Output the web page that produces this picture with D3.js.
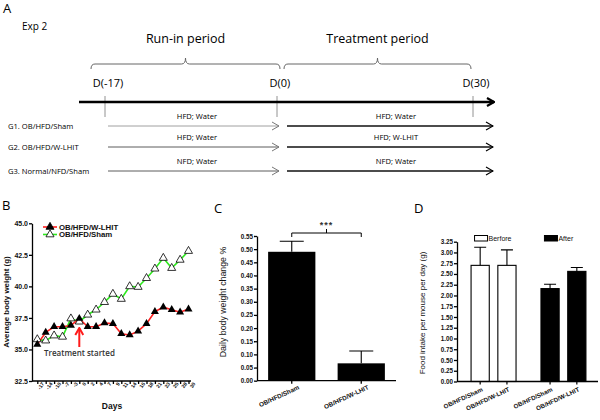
<!DOCTYPE html>
<html>
<head>
<meta charset="utf-8">
<script src="https://d3js.org/d3.v7.min.js"></script>
<style>
  body { margin: 0; background: #fff; }
  svg { display: block; }
  .cal { font-family: "Open Sans", sans-serif; fill: #000; }
  .gp { font-family: "Liberation Sans", Arial, sans-serif; font-weight: bold; fill: #111; }
  .axis path, .axis line { stroke: #000; stroke-width: 1.3; }
  .axis text { font-family: "Liberation Sans", Arial, sans-serif; font-weight: bold; fill: #111; }
</style>
</head>
<body>
<script>
// ---- panel A: study design
var milestones = [-17, 0, 30];
var periods = [["Run-in period", -17, 0], ["Treatment period", 0, 30]];
var groups = ["G1. OB/HFD/Sham", "G2. OB/HFD/W-LHIT", "G3. Normal/NFD/Sham"];
var runIn = ["HFD; Water", "HFD; Water", "NFD; Water"];
var treatment = ["HFD; Water", "HFD; W-LHIT", "NFD; Water"];

// ---- panel B: body weight
var days = ["-17","-14","-10","-7","-3","0","2","4","7","9","11","14","16","18","21","23","25","28","30"];
var wLhit = [35.4,36.35,36.8,36.8,36.9,37.45,36.8,36.8,37.1,37.05,36.25,36.15,36.45,37.05,38.0,38.35,38.15,37.95,38.2];
var sham = [35.8,35.7,36.1,36.0,37.45,37.2,37.75,38.15,38.75,39.4,39.0,40.0,39.95,40.65,41.4,42.25,41.45,42.1,42.8];
var bTicks = [32.5, 35, 37.5, 40, 42.5, 45];

// ---- panel C: daily weight change
var cGroups = ["OB/HFD/Sham", "OB/HFD/W-LHIT"];
var cMean = [0.49, 0.066];
var cErr = [0.04, 0.047];

// ---- panel D: food intake
var dPhases = ["Berfore", "After"];
var dGroups = ["OB/HFD/Sham", "OB/HFD/W-LHIT"];
var dBefore = [2.70, 2.70];
var dBeforeErr = [0.42, 0.36];
var dAfter = [2.16, 2.56];
var dAfterErr = [0.10, 0.09];

var svg = d3.select("body").append("svg").attr("width", 600).attr("height", 420);

function chevron(id, color, w) {
  svg.append("defs").append("marker")
    .attr("id", id).attr("viewBox", "0 0 10 10")
    .attr("refX", 9).attr("refY", 5)
    .attr("markerWidth", 10).attr("markerHeight", 10)
    .attr("markerUnits", "userSpaceOnUse")
    .attr("orient", "auto")
    .append("path").attr("d", "M2,1 L9,5 L2,9")
    .attr("fill", "none").attr("stroke", color).attr("stroke-width", w);
}
chevron("arrBig", "#000", 2.2);
chevron("arrGray", "#777", 1);
chevron("arrDark", "#000", 1.2);
chevron("arrRed", "#ff1a1a", 2);

// =============== A ===============
var A = svg.append("g");
var tx = d3.scaleLinear().domain(milestones).range([105, 277, 473]);
var ry = d3.scaleLinear().domain([0, 1, 2]).range([126, 147, 171]);

A.append("text").attr("class", "cal").attr("x", 3).attr("y", 13).style("font-size", "13px").text("A");
A.append("text").attr("class", "cal").attr("x", 22).attr("y", 30).style("font-size", "10px").text("Exp 2");

periods.forEach(function (p, i) {
  var x0 = tx(p[1]) + (i ? 7 : -14), x1 = tx(p[2]) - (i ? 2 : -3), xm = (x0 + x1) / 2;
  A.append("path")
    .attr("d", "M" + x0 + ",69 Q" + x0 + ",64 " + (x0 + 4) + ",64 L" + (xm - 4) + ",64 Q" + xm + ",64 " + xm + ",58 Q" + xm + ",64 " + (xm + 4) + ",64 L" + (x1 - 4) + ",64 Q" + x1 + ",64 " + x1 + ",69")
    .attr("fill", "none").attr("stroke", "#666").attr("stroke-width", 1);
  A.append("text").attr("class", "cal").attr("x", xm).attr("y", 43)
    .attr("text-anchor", "middle").style("font-size", "12.5px").text(p[0]);
});

milestones.forEach(function (m) {
  A.append("text").attr("class", "cal").attr("x", tx(m) + 3).attr("y", 87)
    .attr("text-anchor", "middle").style("font-size", "11px").text("D(" + m + ")");
  A.append("line").attr("x1", tx(m)).attr("x2", tx(m)).attr("y1", 96).attr("y2", 117)
    .attr("stroke", "#777").attr("stroke-width", 0.8);
});

A.append("line").attr("x1", 79).attr("x2", 494).attr("y1", 102).attr("y2", 102)
  .attr("stroke", "#000").attr("stroke-width", 2.6).attr("marker-end", "url(#arrBig)");

groups.forEach(function (g, i) {
  var y = ry(i);
  A.append("text").attr("class", "cal").attr("x", 8).attr("y", y + 2.5)
    .style("font-size", "7.6px").text(g);
  A.append("line").attr("x1", 108).attr("x2", 279).attr("y1", y).attr("y2", y)
    .attr("stroke", i ? "#333" : "#888").attr("stroke-width", 0.8).attr("marker-end", "url(#arrGray)");
  A.append("line").attr("x1", 287).attr("x2", 493).attr("y1", y).attr("y2", y)
    .attr("stroke", "#111").attr("stroke-width", 1.4).attr("marker-end", "url(#arrDark)");
  A.append("text").attr("class", "cal").attr("x", 197).attr("y", y - 7)
    .attr("text-anchor", "middle").style("font-size", "7.6px").text(runIn[i]);
  A.append("text").attr("class", "cal").attr("x", 396).attr("y", y - 7)
    .attr("text-anchor", "middle").style("font-size", "7.6px").text(treatment[i]);
});

// =============== B ===============
var B = svg.append("g");
B.append("text").attr("class", "cal").attr("x", 2).attr("y", 210).style("font-size", "13px").text("B");

var bx = d3.scalePoint().domain(days).range([37.3, 188.5]);
var by = d3.scaleLinear().domain([32.5, 45]).range([381, 223.3]);

B.append("g").attr("class", "axis").attr("transform", "translate(32,0)")
  .call(d3.axisLeft(by).tickValues(bTicks).tickFormat(d3.format(".1f")).tickSize(3).tickSizeOuter(0).tickPadding(1))
  .selectAll("text").style("font-size", "7px");

var bxa = B.append("g").attr("class", "axis").attr("transform", "translate(0,381)")
  .call(d3.axisBottom(bx).tickSize(3).tickSizeOuter(0).tickPadding(2));
bxa.select(".domain").attr("d", "M32,0H191");
bxa.selectAll("text").style("font-size", "5.2px")
  .attr("text-anchor", "end").attr("dx", "0.3em").attr("dy", "0.4em")
  .attr("transform", "rotate(-55)");

var bline = d3.line().x(function (d, i) { return bx(days[i]); }).y(function (d) { return by(d); });
B.append("path").datum(sham).attr("d", bline).attr("fill", "none").attr("stroke", "#2ee81e").attr("stroke-width", 1.6);
B.append("path").datum(wLhit).attr("d", bline).attr("fill", "none").attr("stroke", "#ff2020").attr("stroke-width", 1.6);

var tri = d3.symbol().type(d3.symbolTriangle).size(28);
B.selectAll(".ts").data(sham).enter().append("path")
  .attr("transform", function (d, i) { return "translate(" + bx(days[i]) + "," + by(d) + ")"; })
  .attr("d", tri).attr("fill", "#fff").attr("stroke", "#000").attr("stroke-width", 0.8);
B.selectAll(".tw").data(wLhit).enter().append("path")
  .attr("transform", function (d, i) { return "translate(" + bx(days[i]) + "," + by(d) + ")"; })
  .attr("d", tri).attr("fill", "#000");

// legend
[["OB/HFD/W-LHIT", "#ff2020", "#000"], ["OB/HFD/Sham", "#2ee81e", "#fff"]].forEach(function (l, i) {
  var y = 227 + i * 7.5;
  B.append("line").attr("x1", 43).attr("x2", 57).attr("y1", y).attr("y2", y).attr("stroke", l[1]).attr("stroke-width", 1.6);
  B.append("path").attr("transform", "translate(50," + y + ")").attr("d", tri)
    .attr("fill", l[2]).attr("stroke", "#000").attr("stroke-width", 0.8);
  B.append("text").attr("class", "gp").attr("x", 59).attr("y", y + 2.7).style("font-size", "7.8px").text(l[0]);
});

B.append("line").attr("x1", bx("0")).attr("x2", bx("0")).attr("y1", 347).attr("y2", 328)
  .attr("stroke", "#ff1a1a").attr("stroke-width", 2).attr("marker-end", "url(#arrRed)");
B.append("text").attr("class", "cal").attr("x", 44).attr("y", 356)
  .style("font-size", "8px").style("font-weight", "600").style("fill", "#333").text("Treatment started");

B.append("text").attr("class", "gp").attr("transform", "translate(9,302) rotate(-90)")
  .attr("text-anchor", "middle").style("font-size", "7.9px").text("Average body weight (g)");
B.append("text").attr("class", "gp").attr("x", 112).attr("y", 409)
  .attr("text-anchor", "middle").style("font-size", "8.5px").text("Days");

// =============== C ===============
var C = svg.append("g");
C.append("text").attr("class", "cal").attr("x", 214).attr("y", 213).style("font-size", "13px").text("C");

var cx = d3.scaleBand().domain(cGroups).range([257, 396]).paddingInner(0.32).paddingOuter(0.16);
var cy = d3.scaleLinear().domain([0, 0.55]).range([380.7, 236]);

C.append("g").attr("class", "axis").attr("transform", "translate(257,0)")
  .call(d3.axisLeft(cy).tickValues(d3.range(0, 0.5501, 0.05)).tickFormat(d3.format(".2f")).tickSize(3).tickSizeOuter(0).tickPadding(1))
  .selectAll("text").style("font-size", "6.3px");

C.selectAll(".cb").data(cMean).enter().append("rect")
  .attr("x", function (d, i) { return cx(cGroups[i]); })
  .attr("y", function (d) { return cy(d); })
  .attr("width", cx.bandwidth())
  .attr("height", function (d) { return cy(0) - cy(d); })
  .attr("fill", "#000");
cMean.forEach(function (m, i) {
  var xc = cx(cGroups[i]) + cx.bandwidth() / 2;
  C.append("path").attr("d", "M" + xc + "," + cy(m) + "V" + cy(m + cErr[i]) + "M" + (xc - 12) + "," + cy(m + cErr[i]) + "H" + (xc + 12))
    .attr("stroke", "#000").attr("stroke-width", 1.1).attr("fill", "none");
});

var cxa = C.append("g").attr("class", "axis").attr("transform", "translate(0,380.7)")
  .call(d3.axisBottom(cx).tickSize(3).tickSizeOuter(0).tickPadding(2));
cxa.select(".domain").attr("d", "M257,0H396");
cxa.selectAll("text").style("font-size", "6.4px").attr("text-anchor", "end")
  .attr("dx", "0.6em").attr("dy", "0.9em").attr("transform", "rotate(-25)");

var c0 = cx(cGroups[0]) + cx.bandwidth() / 2, c1 = cx(cGroups[1]) + cx.bandwidth() / 2, cm = (c0 + c1) / 2;
C.append("path").attr("d", "M" + c0 + ",237 V233 H" + c1 + " V237 M" + cm + ",233 V229")
  .attr("fill", "none").attr("stroke", "#000").attr("stroke-width", 1);
C.append("text").attr("class", "gp").attr("x", cm).attr("y", 228).attr("text-anchor", "middle")
  .style("font-size", "9px").style("fill", "#333").style("letter-spacing", "1px").text("***");

C.append("text").attr("class", "gp").attr("transform", "translate(226,302) rotate(-90)")
  .attr("text-anchor", "middle").style("font-size", "8.8px").style("font-weight", "normal").text("Daily body weight change %");

// =============== D ===============
var D = svg.append("g");
D.append("text").attr("class", "cal").attr("x", 414).attr("y", 213).style("font-size", "13px").text("D");

var dx0 = d3.scaleBand().domain(dPhases).range([457, 600]).paddingInner(0.234).paddingOuter(0.14);
var dx1 = d3.scaleBand().domain(dGroups).range([0, dx0.bandwidth()]).paddingInner(0.32).paddingOuter(0.16);
var dy = d3.scaleLinear().domain([0, 3.25]).range([381.5, 241.7]);

D.append("g").attr("class", "axis").attr("transform", "translate(457,0)")
  .call(d3.axisLeft(dy).tickValues(d3.range(0, 3.2501, 0.25)).tickFormat(d3.format(".2f")).tickSize(3).tickSizeOuter(0).tickPadding(1))
  .selectAll("text").style("font-size", "6.3px");

var dData = [];
dPhases.forEach(function (p, j) {
  dGroups.forEach(function (g, i) {
    dData.push({ p: p, g: g, v: j ? dAfter[i] : dBefore[i], e: j ? dAfterErr[i] : dBeforeErr[i], fill: j ? "#000" : "#fff" });
  });
});

D.selectAll(".db").data(dData).enter().append("rect")
  .attr("x", function (d) { return dx0(d.p) + dx1(d.g); })
  .attr("y", function (d) { return dy(d.v); })
  .attr("width", dx1.bandwidth())
  .attr("height", function (d) { return dy(0) - dy(d.v); })
  .attr("fill", function (d) { return d.fill; })
  .attr("stroke", "#000").attr("stroke-width", 1.1);
D.selectAll(".de").data(dData).enter().append("path")
  .attr("d", function (d) {
    var xc = dx0(d.p) + dx1(d.g) + dx1.bandwidth() / 2;
    return "M" + xc + "," + dy(d.v) + "V" + dy(d.v + d.e) + "M" + (xc - 6) + "," + dy(d.v + d.e) + "H" + (xc + 6);
  })
  .attr("stroke", "#000").attr("stroke-width", 1.1).attr("fill", "none");

D.append("line").attr("class", "axis").attr("x1", 457).attr("x2", 598).attr("y1", 381.5).attr("y2", 381.5)
  .attr("stroke", "#000").attr("stroke-width", 1.3);
dData.forEach(function (d) {
  var xc = dx0(d.p) + dx1(d.g) + dx1.bandwidth() / 2;
  D.append("line").attr("x1", xc).attr("x2", xc).attr("y1", 381.5).attr("y2", 384.5).attr("stroke", "#000").attr("stroke-width", 1.2);
  D.append("text").attr("class", "gp").attr("transform", "translate(" + (xc + 3) + ",391) rotate(-25)")
    .attr("text-anchor", "end").style("font-size", "6.2px").text(d.g);
});

dPhases.forEach(function (p, j) {
  var x = dx0(p) + dx0.bandwidth() / 2 - 19;
  D.append("rect").attr("x", x).attr("y", 235.5).attr("width", 13).attr("height", 5.5)
    .attr("fill", j ? "#000" : "#fff").attr("stroke", "#000").attr("stroke-width", 1);
  D.append("text").attr("class", "gp").attr("x", x + 14).attr("y", 241)
    .style("font-size", "7px").style("font-weight", "normal").text(p);
});

D.append("text").attr("class", "gp").attr("transform", "translate(425,313) rotate(-90)")
  .attr("text-anchor", "middle").style("font-size", "8px").style("font-weight", "normal").text("Food intake per mouse per day (g)");
</script>
</body>
</html>
